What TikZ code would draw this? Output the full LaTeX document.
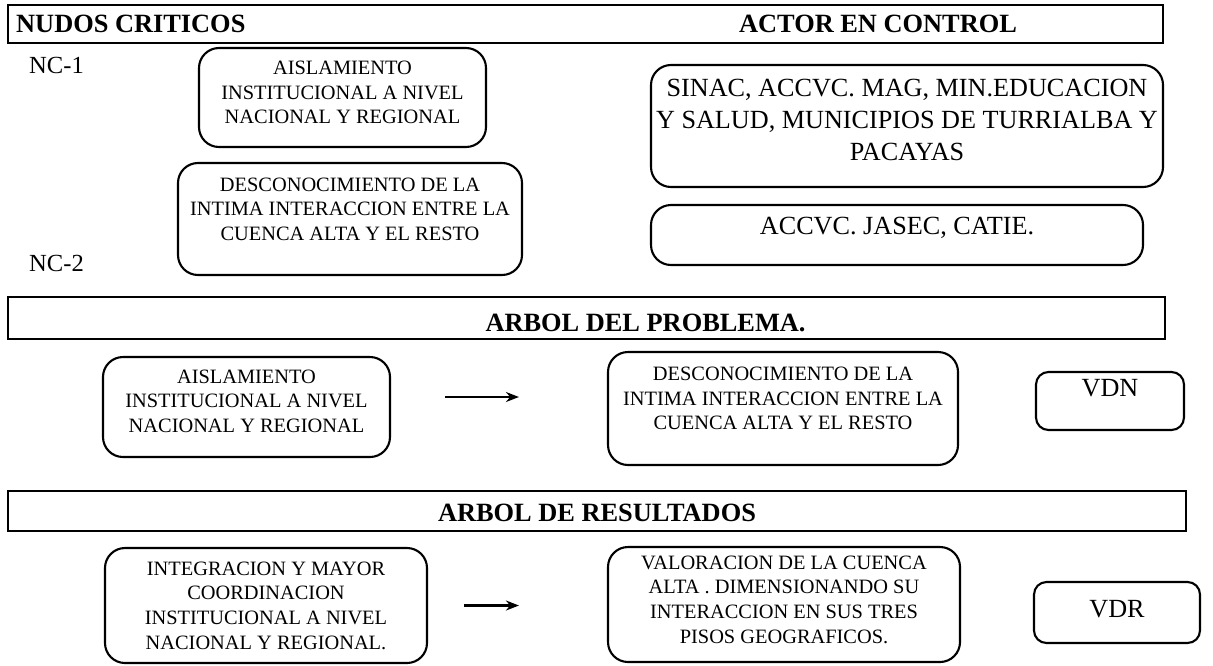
\documentclass[tikz,border=0pt]{standalone}
\usepackage{fontspec}
\setmainfont{Liberation Serif}
\usetikzlibrary{arrows.meta, positioning}

\begin{document}
\begin{tikzpicture}[
        bar/.style={rectangle, draw, line width=1.6pt, inner sep=0pt},
        title/.style={font=\fontsize{15}{18}\selectfont\bfseries},
        box/.style={rectangle, draw, line width=1.2pt, rounded corners=0.4cm, align=center, inner sep=1pt, font=\fontsize{11.6}{14}\selectfont},
        actorbox/.style={box, font=\fontsize{14.9}{18.2}\selectfont},
        nclabel/.style={font=\fontsize{14}{16}\selectfont},
        arrow/.style={-{Stealth[length=2.6mm, width=2mm]}, line width=1.2pt}
    ]
        \useasboundingbox (0,0) rectangle (24.26,-13.30);

        % Nudos criticos
        \node[bar, minimum width=23.10cm, minimum height=0.76cm] (h1) at (11.71,-0.48) {};
        \node[title, anchor=west] (nudos) at (0.20,-0.48) {NUDOS CRITICOS};
        \node[title] (actor) at (17.56,-0.48) {ACTOR EN CONTROL};
        \node[nclabel] (nc1) at (1.13,-1.30) {NC-1};
        \node[nclabel] (nc2) at (1.13,-5.26) {NC-2};
        \node[box, minimum width=5.74cm, minimum height=1.98cm, text depth=5.7pt] (ais1) at (6.85,-1.95) {AISLAMIENTO\\INSTITUCIONAL A NIVEL\\NACIONAL Y REGIONAL};
        \node[box, minimum width=6.88cm, minimum height=2.24cm, text depth=11.4pt] (des1) at (7.00,-4.38) {DESCONOCIMIENTO DE LA\\INTIMA INTERACCION ENTRE LA\\CUENCA ALTA Y EL RESTO};
        \node[actorbox, minimum width=10.24cm, minimum height=2.44cm, text depth=6.8pt] (sinac) at (18.14,-2.52) {SINAC, ACCVC. MAG, MIN.EDUCACION\\Y SALUD, MUNICIPIOS DE TURRIALBA Y\\PACAYAS};
        \node[actorbox, minimum width=9.84cm, minimum height=1.20cm, text depth=11pt] (accvc) at (17.94,-4.70) {ACCVC. JASEC, CATIE.};

        % Arbol del problema
        \node[bar, minimum width=23.14cm, minimum height=0.84cm] (h2) at (11.73,-6.36) {};
        \node[title] (prob) at (12.91,-6.46) {ARBOL DEL PROBLEMA.};
        \node[box, minimum width=5.74cm, minimum height=2.00cm, text depth=6.8pt] (ais2) at (4.93,-8.14) {AISLAMIENTO\\INSTITUCIONAL A NIVEL\\NACIONAL Y REGIONAL};
        \node[box, minimum width=7.00cm, minimum height=2.26cm, text depth=11.4pt] (des2) at (15.66,-8.17) {DESCONOCIMIENTO DE LA\\INTIMA INTERACCION ENTRE LA\\CUENCA ALTA Y EL RESTO};
        \node[actorbox, minimum width=2.96cm, minimum height=1.16cm, text depth=14.8pt, rounded corners=0.25cm] (vdn) at (22.20,-8.02) {VDN};
        \draw[arrow, shorten <=1.08cm, shorten >=1.76cm] ([yshift=2mm]ais2.east) -- ([yshift=2mm]ais2.east -| des2.west);

        % Arbol de resultados
        \node[bar, minimum width=23.56cm, minimum height=0.80cm] (h3) at (11.94,-10.22) {};
        \node[title] (res) at (11.94,-10.26) {ARBOL DE RESULTADOS};
        \node[box, minimum width=6.44cm, minimum height=2.30cm] (integ) at (5.32,-12.11) {INTEGRACION Y MAYOR\\COORDINACION\\INSTITUCIONAL A NIVEL\\NACIONAL Y REGIONAL.};
        \node[box, minimum width=7.04cm, minimum height=2.30cm, text depth=5.7pt] (valor) at (15.68,-12.09) {VALORACION DE LA CUENCA\\ALTA . DIMENSIONANDO SU\\INTERACCION EN SUS TRES\\PISOS GEOGRAFICOS.};
        \node[actorbox, minimum width=3.32cm, minimum height=1.22cm, text depth=4.5pt, rounded corners=0.25cm] (vdr) at (22.34,-12.25) {VDR};
        \draw[arrow, shorten <=0.72cm, shorten >=1.76cm] (integ.east) -- (integ.east -| valor.west);
    \end{tikzpicture}
\end{document}
